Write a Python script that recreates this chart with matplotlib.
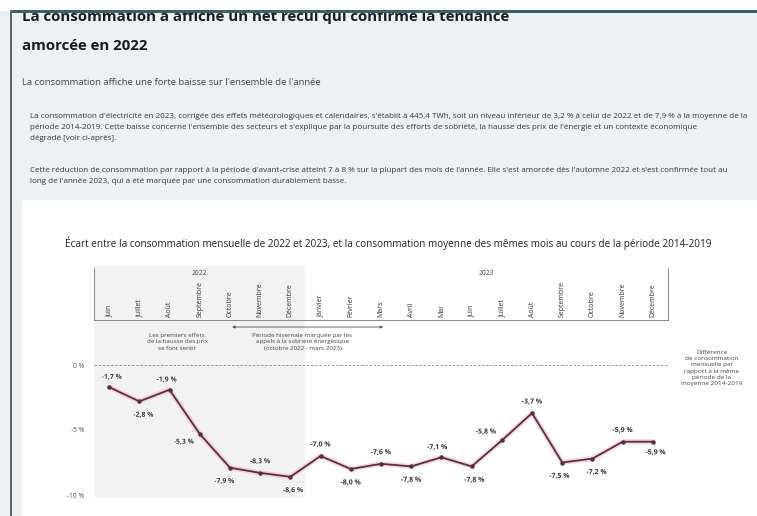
import matplotlib
matplotlib.use("Agg")
import matplotlib.pyplot as plt
from matplotlib.patches import Rectangle
import matplotlib.patheffects as pe

plt.rcParams["font.family"] = ["Open Sans", "DejaVu Sans"]

# ---- data -------------------------------------------------------------
months = ["Juin", "Juillet", "Août", "Septembre", "Octobre", "Novembre", "Décembre",
          "Janvier", "Février", "Mars", "Avril", "Mai", "Juin", "Juillet", "Août",
          "Septembre", "Octobre", "Novembre", "Décembre"]
year_groups = ["2022", "2023"]
months_per_year = [7, 12]
ecart = [-1.7, -2.8, -1.9, -5.3, -7.9, -8.3, -8.6, -7.0, -8.0, -7.6,
         -7.8, -7.1, -7.8, -5.8, -3.7, -7.5, -7.2, -5.9, -5.9]
y_ticks = [0, -5, -10]
y_tick_labels = ["0 %", "-5 %", "-10 %"]

# label placement (offset in points from each marker, alignment)
label_pos = [(2, 7, "center"), (3, -10, "center"), (-2, 7, "center"), (-4, -6, "right"),
             (-4, -10, "center"), (0, 8, "center"), (2, -10, "center"), (0, 8, "center"),
             (0, -10, "center"), (0, 8, "center"), (0, -10, "center"), (-3, 7, "center"),
             (2, -10, "center"), (-4, 6, "right"), (0, 8, "center"), (-2, -10, "center"),
             (3, -10, "center"), (0, 8, "center"), (2, -8, "center")]

W, H = 757, 516
fig = plt.figure(figsize=(W / 100, H / 100), dpi=100)
fig.patch.set_facecolor("#eef1f4")


def fx(px):
    return px / W


def fy(py):
    return 1 - py / H


def frect(x0, y0, x1, y1, color, z=0):
    fig.patches.append(Rectangle((fx(x0), fy(y1)), fx(x1) - fx(x0), fy(y0) - fy(y1),
                                 transform=fig.transFigure, facecolor=color,
                                 edgecolor="none", zorder=z))


# page frame
frect(0, 0, W, 11, "white", z=20)
frect(10, 10, W, 12.5, "#3b5e6a", z=21)
frect(10, 10, 12, H, "#5b6268", z=21)
frect(22, 200, W, H, "white", z=0)

# header texts
fig.text(fx(22), fy(21.5), "La consommation a affiché un net recul qui confirme la tendance",
         fontsize=10.8, fontweight="bold", color="#1b1b1b", va="baseline", zorder=5)
fig.text(fx(22), fy(50), "amorcée en 2022", fontsize=10.8, fontweight="bold",
         color="#1b1b1b", va="baseline", zorder=5)
fig.text(fx(22), fy(82), "La consommation affiche une forte baisse sur l'ensemble de l'année",
         fontsize=6.8, color="#444444", va="center", zorder=5)

para1 = [
    "La consommation d'électricité en 2023, corrigée des effets météorologiques et calendaires, s'établit à 445,4 TWh, soit un niveau inférieur de 3,2 % à celui de 2022 et de 7,9 % à la moyenne de la",
    "période 2014-2019. Cette baisse concerne l'ensemble des secteurs et s'explique par la poursuite des efforts de sobriété, la hausse des prix de l'énergie et un contexte économique",
    "dégradé [voir ci-après].",
]
para2 = [
    "Cette réduction de consommation par rapport à la période d'avant-crise atteint 7 à 8 % sur la plupart des mois de l'année. Elle s'est amorcée dès l'automne 2022 et s'est confirmée tout au",
    "long de l'année 2023, qui a été marquée par une consommation durablement basse.",
]
for i, line in enumerate(para1):
    fig.text(fx(30), fy(117 + 10.5 * i), line, fontsize=5.8, color="#333333", va="center", zorder=5)
for i, line in enumerate(para2):
    fig.text(fx(30), fy(171 + 10.5 * i), line, fontsize=5.8, color="#333333", va="center", zorder=5)

fig.text(fx(388), fy(243),
         "Écart entre la consommation mensuelle de 2022 et 2023, et la consommation moyenne des mêmes mois au cours de la période 2014-2019",
         fontsize=7.2, color="#222222", ha="center", va="center", zorder=5)

# ---- main axes --------------------------------------------------------
px_per_pct = 13.0
y0_px = 365.0
ax = fig.add_axes([fx(94), fy(497), fx(668) - fx(94), fy(266) - fy(497)])
ax.set_facecolor("none")
ax.set_zorder(3)
n = len(ecart)
ax.set_xlim(-0.5, n - 0.5)
ax.set_ylim(-(497 - y0_px) / px_per_pct, (y0_px - 266) / px_per_pct)
for s in ax.spines.values():
    s.set_visible(False)
ax.set_xticks([])
ax.set_yticks(y_ticks)
ax.set_yticklabels(y_tick_labels)
ax.tick_params(axis="y", length=0, pad=7, labelsize=4.8, labelcolor="#555555")

# shaded 2022 block
ax.axvspan(-0.5, months_per_year[0] - 0.5, color="#f2f2f2", zorder=0, lw=0)

ax.axhline(0, color="#888888", lw=0.6, ls=(0, (3, 2)), zorder=1)

x = list(range(n))
ax.plot(x, ecart, color="#f4b9c8", lw=3.6, alpha=0.6, solid_capstyle="round", zorder=2)
ax.plot(x, ecart, color="#5c2b43", lw=1.3, marker="o", markersize=2.2, zorder=3)

for xi, v, (dx, dy, ha) in zip(x, ecart, label_pos):
    ax.annotate(f"{v:.1f} %".replace(".", ","), (xi, v), xytext=(dx, dy),
                textcoords="offset points", ha=ha, va="center", fontsize=5.0,
                fontweight="bold", color="#333333", zorder=4,
                path_effects=[pe.withStroke(linewidth=1.5, foreground="white")])

# annotations below the month strip
ax.text(2.25, 1.77, "Les premiers effets\nde la hausse des prix\nse font sentir",
        ha="center", va="center", fontsize=4.5, color="#444444", linespacing=1.3)
ax.annotate("", xy=(9.07, 2.92), xytext=(4.07, 2.92),
            arrowprops=dict(arrowstyle="<|-|>", color="#555555", lw=0.6,
                            mutation_scale=4, shrinkA=0, shrinkB=0))
ax.text(6.4, 1.77, "Période hivernale marquée par les\nappels à la sobriété énergétique\n(octobre 2022 - mars 2023)",
        ha="center", va="center", fontsize=4.5, color="#444444", linespacing=1.3)

# ---- month strip -----------------------------------------------------
strip_bottom = (y0_px - 320) / px_per_pct
strip_top = (y0_px - 268) / px_per_pct
ins = ax.inset_axes([-0.5, strip_bottom, n, strip_top - strip_bottom], transform=ax.transData)
ins.set_xlim(-0.5, n - 0.5)
ins.set_ylim(0, 1)
ins.set_facecolor("none")
ins.set_xticks([])
ins.set_yticks([])
ins.spines["top"].set_visible(False)
for side in ("left", "bottom", "right"):
    ins.spines[side].set_color("#777777")
    ins.spines[side].set_linewidth(0.6)
for i, m in enumerate(months):
    ins.text(i, 0.05, m, rotation=90, ha="center", va="bottom", fontsize=5.0, color="#333333")
start = 0
for yr, cnt in zip(year_groups, months_per_year):
    ins.text(start + (cnt - 1) / 2, 0.9, yr, ha="center", va="center", fontsize=4.8, color="#444444")
    start += cnt

fig.text(fx(712), fy(368),
         "Différence\nde consommation\nmensuelle par\nrapport à la même\npériode de la\nmoyenne 2014-2019",
         ha="center", va="center", fontsize=4.6, color="#444444", linespacing=1.3, zorder=5)

fig.savefig("out.png", dpi=100, facecolor=fig.get_facecolor())
